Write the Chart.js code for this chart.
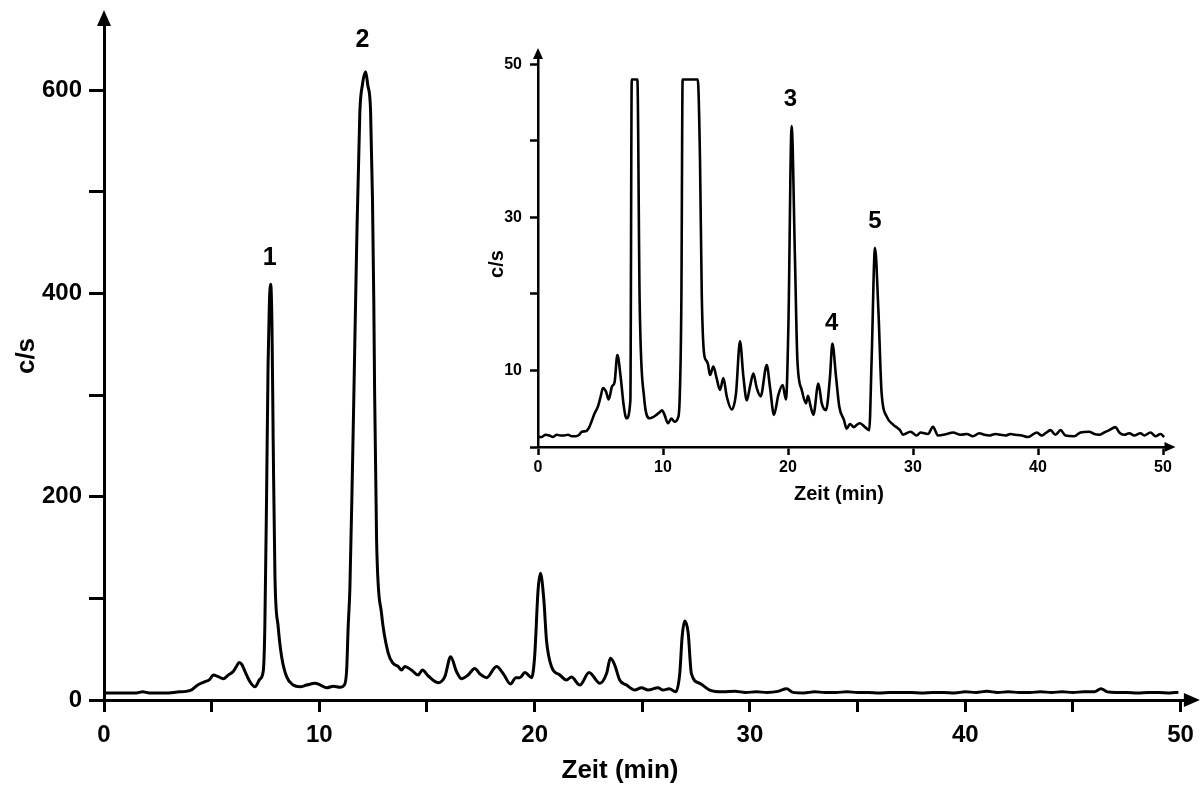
<!DOCTYPE html>
<html>
<head>
<meta charset="utf-8">
<script src="https://cdn.jsdelivr.net/npm/chart.js@4.4.1/dist/chart.umd.min.js"></script>
<style>
  body { margin: 0; background: #fff; }
  #wrap { position: relative; width: 1203px; height: 787px; }
  #wrap canvas { position: absolute; left: 0; top: 0; }
</style>
</head>
<body>
<div id="wrap">
  <canvas id="mainChart" width="1203" height="787"></canvas>
  <canvas id="insetChart" width="1203" height="787"></canvas>
</div>
<script>
// main chromatogram (Zeit in min, c/s)
const mainTime = [0, 0.5, 1.0, 1.5, 1.8, 2.1, 2.5, 3.0, 3.5, 3.8, 4.07, 4.37, 4.69, 4.9, 5.08, 5.3, 5.54, 5.77, 6.0, 6.15, 6.28, 6.4, 6.55, 6.78, 7.01, 7.24, 7.4, 7.47, 7.55, 7.62, 7.68, 7.74, 7.8, 7.86, 7.94, 8.09, 8.25, 8.48, 8.79, 9.1, 9.41, 9.8, 10.05, 10.34, 10.65, 10.96, 11.16, 11.27, 11.34, 11.42, 11.54, 11.6, 11.73, 11.88, 12.0, 12.15, 12.25, 12.38, 12.47, 12.53, 12.57, 12.66, 12.89, 13.2, 13.43, 13.66, 13.82, 13.97, 14.28, 14.59, 14.79, 15.06, 15.52, 15.83, 16.1, 16.37, 16.6, 16.91, 17.22, 17.46, 17.77, 18.23, 18.54, 18.88, 19.13, 19.31, 19.55, 19.86, 20.0, 20.16, 20.27, 20.43, 20.55, 20.78, 21.17, 21.48, 21.71, 22.1, 22.53, 23.03, 23.34, 23.52, 23.72, 23.95, 24.27, 24.65, 24.96, 25.27, 25.73, 25.97, 26.25, 26.55, 26.74, 26.85, 26.97, 27.13, 27.28, 27.67, 28.13, 28.75, 29.3, 29.8, 30.3, 30.8, 31.3, 31.7, 32.0, 32.5, 33.0, 33.5, 34.0, 34.5, 35.0, 35.5, 36.0, 36.5, 37.0, 37.5, 38.0, 38.5, 39.0, 39.5, 40.0, 40.5, 41.0, 41.5, 42.0, 42.5, 43.0, 43.5, 44.0, 44.5, 45.0, 45.5, 46.0, 46.3, 46.6, 47.0, 47.5, 48.0, 48.5, 49.0, 49.5, 49.9];
const mainSignal = [7, 7, 7, 7, 8, 7, 7, 7, 8, 8.5, 10, 15, 18, 20, 24.6, 23, 21, 24.5, 28, 33, 37, 35, 28, 18, 13, 20.5, 29, 72, 200, 330, 390, 409, 370, 250, 121, 72, 42.6, 23, 14.7, 13, 14.7, 16.4, 14.7, 12, 13.5, 12.5, 14.7, 29.5, 72, 110, 229, 295, 442, 577, 605, 618, 605, 580, 492, 393, 300, 157, 85, 46, 36, 33, 29.5, 33, 29.5, 24.6, 29.5, 23.6, 17, 23, 42.6, 28, 21, 24.6, 31, 25.6, 22, 33, 26, 15.7, 22, 22, 27, 22, 42.6, 108, 124.6, 98, 59, 33, 24.6, 19.7, 22.6, 14.7, 27, 16.4, 26, 41, 34.4, 19.7, 14.7, 9.8, 12, 9.8, 12, 9.8, 11, 8, 26, 62, 77.7, 66, 26, 16.4, 9.8, 8, 8.5, 7.5, 8, 7.5, 8.5, 11, 7.5, 7, 8, 7.5, 7.5, 8, 7.5, 7.5, 7, 7.5, 7.5, 7.5, 7, 7.5, 7.5, 7, 8, 7.5, 8.5, 7.5, 8, 7.5, 7.5, 8, 7.5, 8, 7.5, 8, 8, 11, 8, 7.5, 7.5, 7, 7.5, 7.5, 7, 7.5];

// inset chromatogram (peaks 1 and 2 cut off at the top)
const insetTime = [0, 0.3, 0.6, 0.9, 1.2, 1.5, 1.8, 2.1, 2.4, 2.7, 3.0, 3.3, 3.5, 3.87, 4.13, 4.53, 4.8, 5.0, 5.2, 5.45, 5.65, 5.92, 6.13, 6.35, 6.61, 6.85, 7.07, 7.39, 7.5, 7.95, 8.13, 8.48, 8.93, 9.2, 9.47, 9.7, 9.92, 10.1, 10.4, 10.67, 10.93, 11.2, 11.33, 11.47, 11.57, 12.78, 12.96, 13.1, 13.28, 13.5, 13.6, 13.76, 14.03, 14.29, 14.56, 14.83, 15.1, 15.5, 15.84, 16.16, 16.43, 16.7, 16.95, 17.23, 17.5, 17.81, 18.3, 18.56, 18.88, 19.23, 19.57, 19.84, 20.03, 20.29, 20.56, 20.75, 21.1, 21.44, 21.6, 21.81, 22.03, 22.43, 22.7, 23.04, 23.36, 23.55, 23.84, 24.1, 24.48, 24.69, 24.96, 25.28, 25.5, 25.76, 26.16, 26.5, 26.69, 26.96, 27.23, 27.49, 27.89, 28.43, 28.96, 29.2, 29.8, 30.3, 30.6, 31.2, 31.6, 32.0, 32.7, 33.2, 33.8, 34.3, 34.8, 35.3, 35.7, 36.1, 36.6, 37.0, 37.4, 37.8, 38.2, 38.7, 39.2, 39.9, 40.3, 40.6, 41.0, 41.4, 41.8, 42.2, 42.9, 43.4, 44.1, 44.5, 44.9, 45.3, 45.7, 46.2, 46.5, 46.9, 47.3, 47.7, 48.2, 48.5, 49.0, 49.4, 49.8, 50.1];
const insetSignal = [1.3, 1.3, 1.6, 1.5, 1.3, 1.6, 1.5, 1.5, 1.6, 1.4, 1.4, 1.6, 2.0, 2.1, 2.7, 4.4, 5.3, 6.5, 7.7, 7.2, 6.2, 7.9, 8.5, 12.0, 9.2, 5.5, 3.75, 6.1, 48, 48, 19.2, 6.6, 3.75, 3.9, 4.2, 4.5, 4.8, 4.3, 3.1, 3.7, 3.3, 3.8, 6.1, 19.2, 48, 48, 37.5, 20, 12.3, 11.2, 10.8, 9.4, 10.5, 9.0, 7.45, 9.0, 6.6, 4.9, 7.0, 13.8, 9.2, 6.1, 7.8, 9.6, 7.7, 6.6, 10.7, 7.8, 4.2, 6.8, 8.1, 6.2, 15.7, 41.9, 24.4, 11.4, 7.45, 5.7, 6.7, 5.3, 4.2, 8.3, 5.7, 4.8, 9.2, 13.5, 9.2, 5.3, 3.5, 2.4, 3.0, 2.6, 2.9, 3.1, 2.6, 2.2, 11.4, 26.0, 17.9, 7.0, 4.0, 2.9, 2.2, 1.6, 2.0, 1.5, 1.9, 1.7, 2.65, 1.5, 1.7, 1.9, 1.6, 1.7, 1.4, 1.8, 1.6, 1.5, 1.7, 1.6, 1.5, 1.7, 1.6, 1.5, 1.3, 1.9, 1.5, 1.8, 2.2, 1.6, 2.2, 1.5, 1.4, 1.9, 2.0, 1.7, 1.6, 1.9, 2.2, 2.6, 1.9, 1.6, 1.8, 1.5, 1.8, 1.5, 1.9, 1.4, 1.7, 1.3];

// axis ticks and labels
const mainXTicks = [0, 5, 10, 15, 20, 25, 30, 35, 40, 45, 50];
const mainXLabels = [0, 10, 20, 30, 40, 50];
const mainYTicks = [0, 100, 200, 300, 400, 500, 600];
const mainYLabels = [0, 200, 400, 600];
const insetXTicks = [0, 10, 20, 30, 40, 50];
const insetYTicks = [0, 10, 20, 30, 40, 50];
const insetYLabels = [10, 30, 50];

// peak numbers: name, retention time, height of the label
const mainPeakNames = ['1', '2'];
const mainPeakTimes = [7.7, 12.0];
const mainPeakLabelAt = [435, 649];
const insetPeakNames = ['3', '4', '5'];
const insetPeakTimes = [20.2, 23.5, 26.95];
const insetPeakLabelAt = [45.4, 16.2, 29.5];

const FONT = '"Liberation Sans", Arial, sans-serif';

function toPoints(xs, ys) {
  return xs.map((x, i) => ({ x: x, y: ys[i] }));
}

// arrows on the axes, axis titles and the peak numbers
const chromDecor = {
  id: 'chromDecor',
  afterDraw(chart, args, opts) {
    const { ctx, chartArea: a } = chart;
    const xs = chart.scales.x, ys = chart.scales.y;
    ctx.save();
    ctx.fillStyle = '#000';
    ctx.beginPath();
    ctx.moveTo(a.left - opts.arrowHalf, a.top + 1);
    ctx.lineTo(a.left + opts.arrowHalf, a.top + 1);
    ctx.lineTo(a.left, a.top - opts.arrowLen);
    ctx.closePath();
    ctx.fill();
    ctx.beginPath();
    ctx.moveTo(a.right - 1, a.bottom - opts.arrowHalf);
    ctx.lineTo(a.right - 1, a.bottom + opts.arrowHalf);
    ctx.lineTo(a.right + opts.arrowLen, a.bottom);
    ctx.closePath();
    ctx.fill();

    ctx.textAlign = 'center';
    ctx.textBaseline = 'middle';
    ctx.font = 'bold ' + opts.titleSize + 'px ' + FONT;
    ctx.fillText(opts.xTitle, opts.xTitlePos[0], opts.xTitlePos[1]);
    ctx.save();
    ctx.translate(opts.yTitlePos[0], opts.yTitlePos[1]);
    ctx.rotate(-Math.PI / 2);
    ctx.fillText(opts.yTitle, 0, 0);
    ctx.restore();

    ctx.font = 'bold ' + opts.peakSize + 'px ' + FONT;
    opts.peakNames.forEach((n, i) => {
      ctx.fillText(n, xs.getPixelForValue(opts.peakTimes[i]), ys.getPixelForValue(opts.peakAt[i]));
    });
    ctx.restore();
  }
};

function axisOpts(tickVals, labelVals, max, tickLen, width, fontSize, pad, fit) {
  return {
    type: 'linear',
    min: 0,
    max: max,
    afterBuildTicks: (s) => { s.ticks = tickVals.map(v => ({ value: v })); },
    afterFit: fit,
    border: { display: true, color: '#000', width: width },
    grid: { display: true, drawOnChartArea: false, drawTicks: true, tickLength: tickLen, tickWidth: width, tickColor: '#000', color: '#000' },
    ticks: {
      autoSkip: false,
      maxRotation: 0,
      padding: pad,
      color: '#000',
      font: { family: FONT, size: fontSize, weight: 'bold' },
      callback: (v) => labelVals.includes(v) ? String(v) : ''
    }
  };
}

new Chart(document.getElementById('mainChart').getContext('2d'), {
  type: 'line',
  data: {
    datasets: [{
      data: toPoints(mainTime, mainSignal),
      borderColor: '#000',
      borderWidth: 3,
      pointRadius: 0,
      fill: false,
      cubicInterpolationMode: 'monotone'
    }]
  },
  options: {
    responsive: false,
    animation: false,
    layout: { padding: { left: 0, top: 25, right: 18, bottom: 0 } },
    plugins: {
      legend: { display: false },
      tooltip: { enabled: false },
      chromDecor: {
        arrowHalf: 7, arrowLen: 15,
        titleSize: 26, xTitle: 'Zeit (min)', xTitlePos: [620, 771],
        yTitle: 'c/s', yTitlePos: [27, 356],
        peakSize: 25, peakNames: mainPeakNames, peakTimes: mainPeakTimes, peakAt: mainPeakLabelAt
      }
    },
    scales: {
      x: axisOpts(mainXTicks, mainXLabels, 50.2, 12, 3, 24, 9, (s) => { s.height = 87; }),
      y: axisOpts(mainYTicks, mainYLabels, 664, 15, 3, 24, 7, (s) => { s.width = 104; })
    }
  },
  plugins: [chromDecor]
});

new Chart(document.getElementById('insetChart').getContext('2d'), {
  type: 'line',
  data: {
    datasets: [{
      data: toPoints(insetTime, insetSignal),
      borderColor: '#000',
      borderWidth: 2.6,
      pointRadius: 0,
      fill: false,
      cubicInterpolationMode: 'monotone'
    }]
  },
  options: {
    responsive: false,
    animation: false,
    layout: { padding: { left: 478, top: 58, right: 37.5, bottom: 280 } },
    plugins: {
      legend: { display: false },
      tooltip: { enabled: false },
      chromDecor: {
        arrowHalf: 5, arrowLen: 10,
        titleSize: 20, xTitle: 'Zeit (min)', xTitlePos: [839, 494],
        yTitle: 'c/s', yTitlePos: [497, 264],
        peakSize: 24, peakNames: insetPeakNames, peakTimes: insetPeakTimes, peakAt: insetPeakLabelAt
      }
    },
    scales: {
      x: axisOpts(insetXTicks, insetXTicks, 50.2, 8, 2.5, 16, 3, (s) => { s.height = 60; }),
      y: axisOpts(insetYTicks, insetYLabels, 50.8, 8, 2.5, 16, 8, (s) => { s.width = 60; })
    }
  },
  plugins: [chromDecor]
});
</script>
</body>
</html>
